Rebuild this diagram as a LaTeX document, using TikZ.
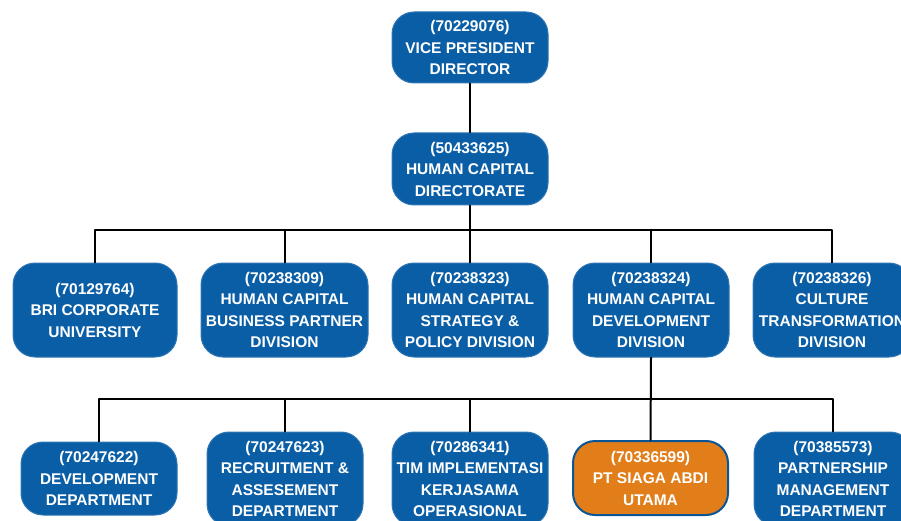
\documentclass[tikz,border=0pt]{standalone}
\usepackage{fontspec}
\setmainfont{Liberation Sans}
\definecolor{briblue}{RGB}{10,94,166}
\definecolor{briorange}{RGB}{226,126,26}
\begin{document}
\begin{tikzpicture}[x=1pt,y=-1pt,line join=round,line cap=round,
  unit/.style={rounded corners=22pt,fill=briblue,draw=briblue!85!white,line width=1pt,text=white,
    font=\bfseries\fontsize{15.5}{21.5}\selectfont,align=center,inner sep=0pt,
    minimum width=156pt,minimum height=94pt},
  child/.style={unit,fill=briorange,draw=briblue!90!black,line width=2pt},
  link/.style={draw=black,line width=2pt}]
\useasboundingbox (0,0) rectangle (901,521);
\node[unit,minimum height=71pt] (vp) at (470,47.5) {(70229076)\\VICE PRESIDENT\\DIRECTOR};
\node[unit,minimum height=72pt] (hc) at (470,169) {(50433625)\\HUMAN CAPITAL\\DIRECTORATE};
\node[unit,minimum width=164pt] (u1) at (95,310) {(70129764)\\BRI CORPORATE\\UNIVERSITY};
\node[unit,minimum width=167pt] (u2) at (284.5,310) {(70238309)\\HUMAN CAPITAL\\BUSINESS PARTNER\\DIVISION};
\node[unit] (u3) at (470,310) {(70238323)\\HUMAN CAPITAL\\STRATEGY \&\\POLICY DIVISION};
\node[unit] (u4) at (651,310) {(70238324)\\HUMAN CAPITAL\\DEVELOPMENT\\DIVISION};
\node[unit,minimum width=158pt] (u5) at (832,310) {(70238326)\\CULTURE\\TRANSFORMATION\\DIVISION};
\node[unit,minimum height=73pt] (d1) at (99,478.5) {(70247622)\\DEVELOPMENT\\DEPARTMENT};
\node[unit] (d2) at (285,479) {(70247623)\\RECRUITMENT \&\\ASSESEMENT\\DEPARTMENT};
\node[unit] (d3) at (470,479) {(70286341)\\TIM IMPLEMENTASI\\KERJASAMA\\OPERASIONAL};
\node[child,minimum width=155pt,minimum height=74pt] (d4) at (650.5,478) {(70336599)\\PT SIAGA ABDI\\UTAMA};
\node[unit,minimum width=158pt] (d5) at (833,479) {(70385573)\\PARTNERSHIP\\MANAGEMENT\\DEPARTMENT};
\coordinate (bar1) at (470,230);
\coordinate (bar2) at (651,399);
\draw[link] (vp) -- (hc);
\draw[link] (hc) -- (bar1);
\draw[link] (u1.north) |- (bar1) -| (u5.north);
\foreach \n in {u2,u3,u4}
  \draw[link] (\n.north) -- (\n.north |- bar1);
\draw[link] (u4.south) -- (d4.north);
\draw[link] (d1.north) |- (bar2) -| (d5.north);
\foreach \n in {d2,d3}
  \draw[link] (\n.north) -- (\n.north |- bar2);
\end{tikzpicture}
\end{document}
